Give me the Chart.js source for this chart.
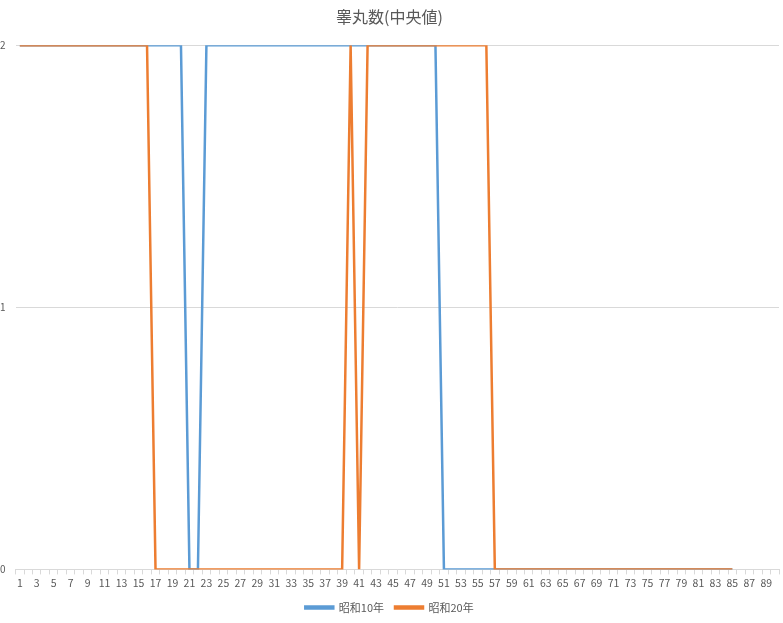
<!DOCTYPE html>
<html>
<head>
<meta charset="utf-8">
<script src="https://cdn.jsdelivr.net/npm/chart.js@4"></script>
<style>
  html, body { margin: 0; padding: 0; background: #fff; }
  #wrap { width: 783px; height: 623px; }
</style>
</head>
<body>
<div id="wrap"><canvas id="chart" width="783" height="623"></canvas></div>
<script>
const categories = Array.from({ length: 90 }, (_, i) => String(i + 1));

// 昭和10年: 2 up to 20, 0 at 21-22, 2 from 23 to 50, 0 from 51
const showa10 = [
  2, 2, 2, 2, 2, 2, 2, 2, 2, 2, 2, 2, 2, 2, 2, 2, 2, 2, 2, 2,
  0, 0, 2, 2, 2, 2, 2, 2, 2, 2, 2, 2, 2, 2, 2, 2, 2, 2, 2, 2,
  2, 2, 2, 2, 2, 2, 2, 2, 2, 2, 0, 0, 0, 0, 0, 0, 0, 0, 0, 0,
  0, 0, 0, 0, 0, 0, 0, 0, 0, 0, 0, 0, 0, 0, 0, 0, 0, 0, 0, 0,
  0, 0, 0, 0, 0,
];

// 昭和20年
const showa20 = [
  2, 2, 2, 2, 2, 2, 2, 2, 2, 2, 2, 2, 2, 2, 2, 2, 0, 0, 0, 0,
  0, 0, 0, 0, 0, 0, 0, 0, 0, 0, 0, 0, 0, 0, 0, 0, 0, 0, 0, 2,
  0, 2, 2, 2, 2, 2, 2, 2, 2, 2, 2, 2, 2, 2, 2, 2, 0, 0, 0, 0,
  0, 0, 0, 0, 0, 0, 0, 0, 0, 0, 0, 0, 0, 0, 0, 0, 0, 0, 0, 0,
  0, 0, 0, 0, 0,
];

const yTicks = [0, 1, 2];

const font = "'Noto Sans CJK JP', 'Noto Sans', sans-serif";

new Chart(document.getElementById("chart"), {
  type: "line",
  data: {
    labels: categories,
    datasets: [
      {
        label: "昭和10年",
        data: showa10,
        borderColor: "#5b9bd5",
        backgroundColor: "#5b9bd5",
        borderWidth: 2.5,
        pointRadius: 0,
        tension: 0,
        order: 2,
      },
      {
        // lower order is drawn on top, as in the original
        label: "昭和20年",
        data: showa20,
        borderColor: "#ed7d31",
        backgroundColor: "#ed7d31",
        borderWidth: 2.5,
        pointRadius: 0,
        tension: 0,
        order: 1,
      },
    ],
  },
  options: {
    responsive: false,
    animation: false,
    layout: { padding: { left: 0, right: 4, top: 7, bottom: 0 } },
    plugins: {
      title: {
        display: true,
        text: "睾丸数(中央値)",
        color: "#595959",
        font: { family: font, size: 16, weight: "normal" },
        padding: { top: 0, bottom: 19 },
      },
      legend: {
        position: "bottom",
        labels: {
          color: "#595959",
          font: { family: font, size: 11 },
          boxWidth: 28,
          boxHeight: 2,
          padding: 11,
          sort: (a, b) => a.datasetIndex - b.datasetIndex,
        },
      },
      tooltip: { enabled: false },
    },
    scales: {
      x: {
        offset: true,
        grid: {
          display: true,
          offset: true,
          drawOnChartArea: false,
          drawTicks: true,
          tickLength: 5,
          color: "#d9d9d9",
        },
        border: { display: true, color: "#d9d9d9" },
        ticks: {
          autoSkip: false,
          maxRotation: 0,
          minRotation: 0,
          color: "#595959",
          font: { family: font, size: 10.5 },
          padding: 2,
          callback: (value, index) => (index % 2 === 0 ? categories[index] : ""),
        },
      },
      y: {
        min: 0,
        max: 2,
        afterBuildTicks: (axis) => {
          axis.ticks = yTicks.map((v) => ({ value: v }));
        },
        grid: { color: "#d9d9d9", drawTicks: false },
        border: { display: false },
        ticks: {
          color: "#595959",
          font: { family: font, size: 10 },
          padding: 5,
          crossAlign: "far",
        },
      },
    },
  },
});
</script>
</body>
</html>
